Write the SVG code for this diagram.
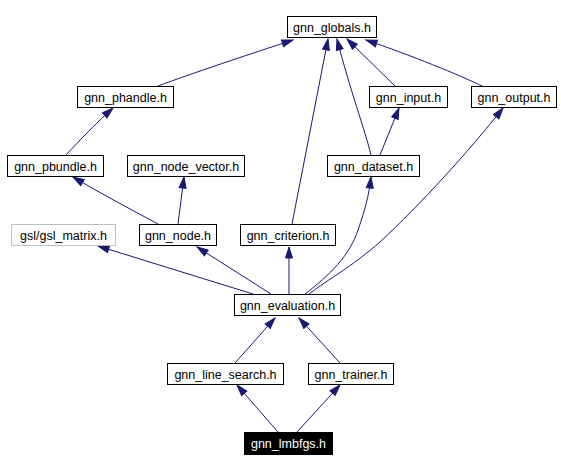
<svg xmlns="http://www.w3.org/2000/svg" width="561" height="471" viewBox="0 0 561 471">
<style>
.n rect{fill:#ffffff;stroke:#000000;stroke-width:1}
.n text{font-family:"Liberation Sans",Arial,sans-serif;font-size:12.5px;text-anchor:middle;fill:#000000}
.g rect{stroke:#bfbfbf}
.h rect{fill:#000000}
.h text{fill:#ffffff}
.e path{fill:none;stroke:#191970;stroke-width:1;marker-end:url(#a)}
</style>
<defs>
<marker id="a" markerUnits="userSpaceOnUse" markerWidth="14" markerHeight="10" refX="11" refY="3.5" orient="auto" overflow="visible">
<path d="M0,0 L11,3.5 L0,7 z" fill="#191970" stroke="#191970" stroke-width="1"/>
</marker>
</defs>
<rect x="0" y="0" width="561" height="471" fill="#ffffff"/>
<g id="edges" class="e">
<path d="M158,86 C190,74 250,54 293,40"/>
<path d="M66,155 C80,140 95,124 113,108"/>
<path d="M158,224 C130,209 100,193 73,177"/>
<path d="M178,224 L184,177"/>
<path d="M253,294 L98,246"/>
<path d="M271,294 L197,247"/>
<path d="M289,294 L289,247"/>
<path d="M305,294 C330,275 350,255 358,230 C365,210 369,195 371,177"/>
<path d="M309,294 C330,278 350,268 380,242 C420,205 470,150 503,108"/>
<path d="M292,224 L328,39"/>
<path d="M371,155 C365,130 350,90 337,39"/>
<path d="M380,155 L399,108"/>
<path d="M396,87 L347,39"/>
<path d="M484,87 C460,75 410,55 366,40"/>
<path d="M235,363 L275,318"/>
<path d="M340,363 L299,318"/>
<path d="M278,432 L237,385"/>
<path d="M297,432 L340,385"/>
</g>
<g id="gnn_globals" class="n"><rect x="287.5" y="16.5" width="89" height="21"/><text x="332" y="32">gnn_globals.h</text></g>
<g id="gnn_phandle" class="n"><rect x="77.5" y="86.5" width="96" height="21"/><text x="125.5" y="102">gnn_phandle.h</text></g>
<g id="gnn_input" class="n"><rect x="369.5" y="86.5" width="78" height="21"/><text x="408.5" y="102">gnn_input.h</text></g>
<g id="gnn_output" class="n"><rect x="471.5" y="86.5" width="85" height="21"/><text x="514" y="102">gnn_output.h</text></g>
<g id="gnn_pbundle" class="n"><rect x="7.5" y="155.5" width="96" height="21"/><text x="55.5" y="171">gnn_pbundle.h</text></g>
<g id="gnn_node_vector" class="n"><rect x="127.5" y="155.5" width="117" height="21"/><text x="186" y="171">gnn_node_vector.h</text></g>
<g id="gnn_dataset" class="n"><rect x="327.5" y="155.5" width="92" height="21"/><text x="373.5" y="171">gnn_dataset.h</text></g>
<g id="gsl_matrix" class="n g"><rect x="11.5" y="224.5" width="104" height="21"/><text x="63.5" y="240">gsl/gsl_matrix.h</text></g>
<g id="gnn_node" class="n"><rect x="139.5" y="224.5" width="77" height="21"/><text x="178" y="240">gnn_node.h</text></g>
<g id="gnn_criterion" class="n"><rect x="240.5" y="224.5" width="95" height="21"/><text x="288" y="240">gnn_criterion.h</text></g>
<g id="gnn_evaluation" class="n"><rect x="234.5" y="294.5" width="106" height="21"/><text x="287.5" y="310">gnn_evaluation.h</text></g>
<g id="gnn_line_search" class="n"><rect x="167.5" y="363.5" width="116" height="21"/><text x="225.5" y="379">gnn_line_search.h</text></g>
<g id="gnn_trainer" class="n"><rect x="308.5" y="363.5" width="85" height="21"/><text x="351" y="379">gnn_trainer.h</text></g>
<g id="gnn_lmbfgs" class="n h"><rect x="244.5" y="432.5" width="88" height="22"/><text x="288.5" y="448">gnn_lmbfgs.h</text></g>
</svg>
